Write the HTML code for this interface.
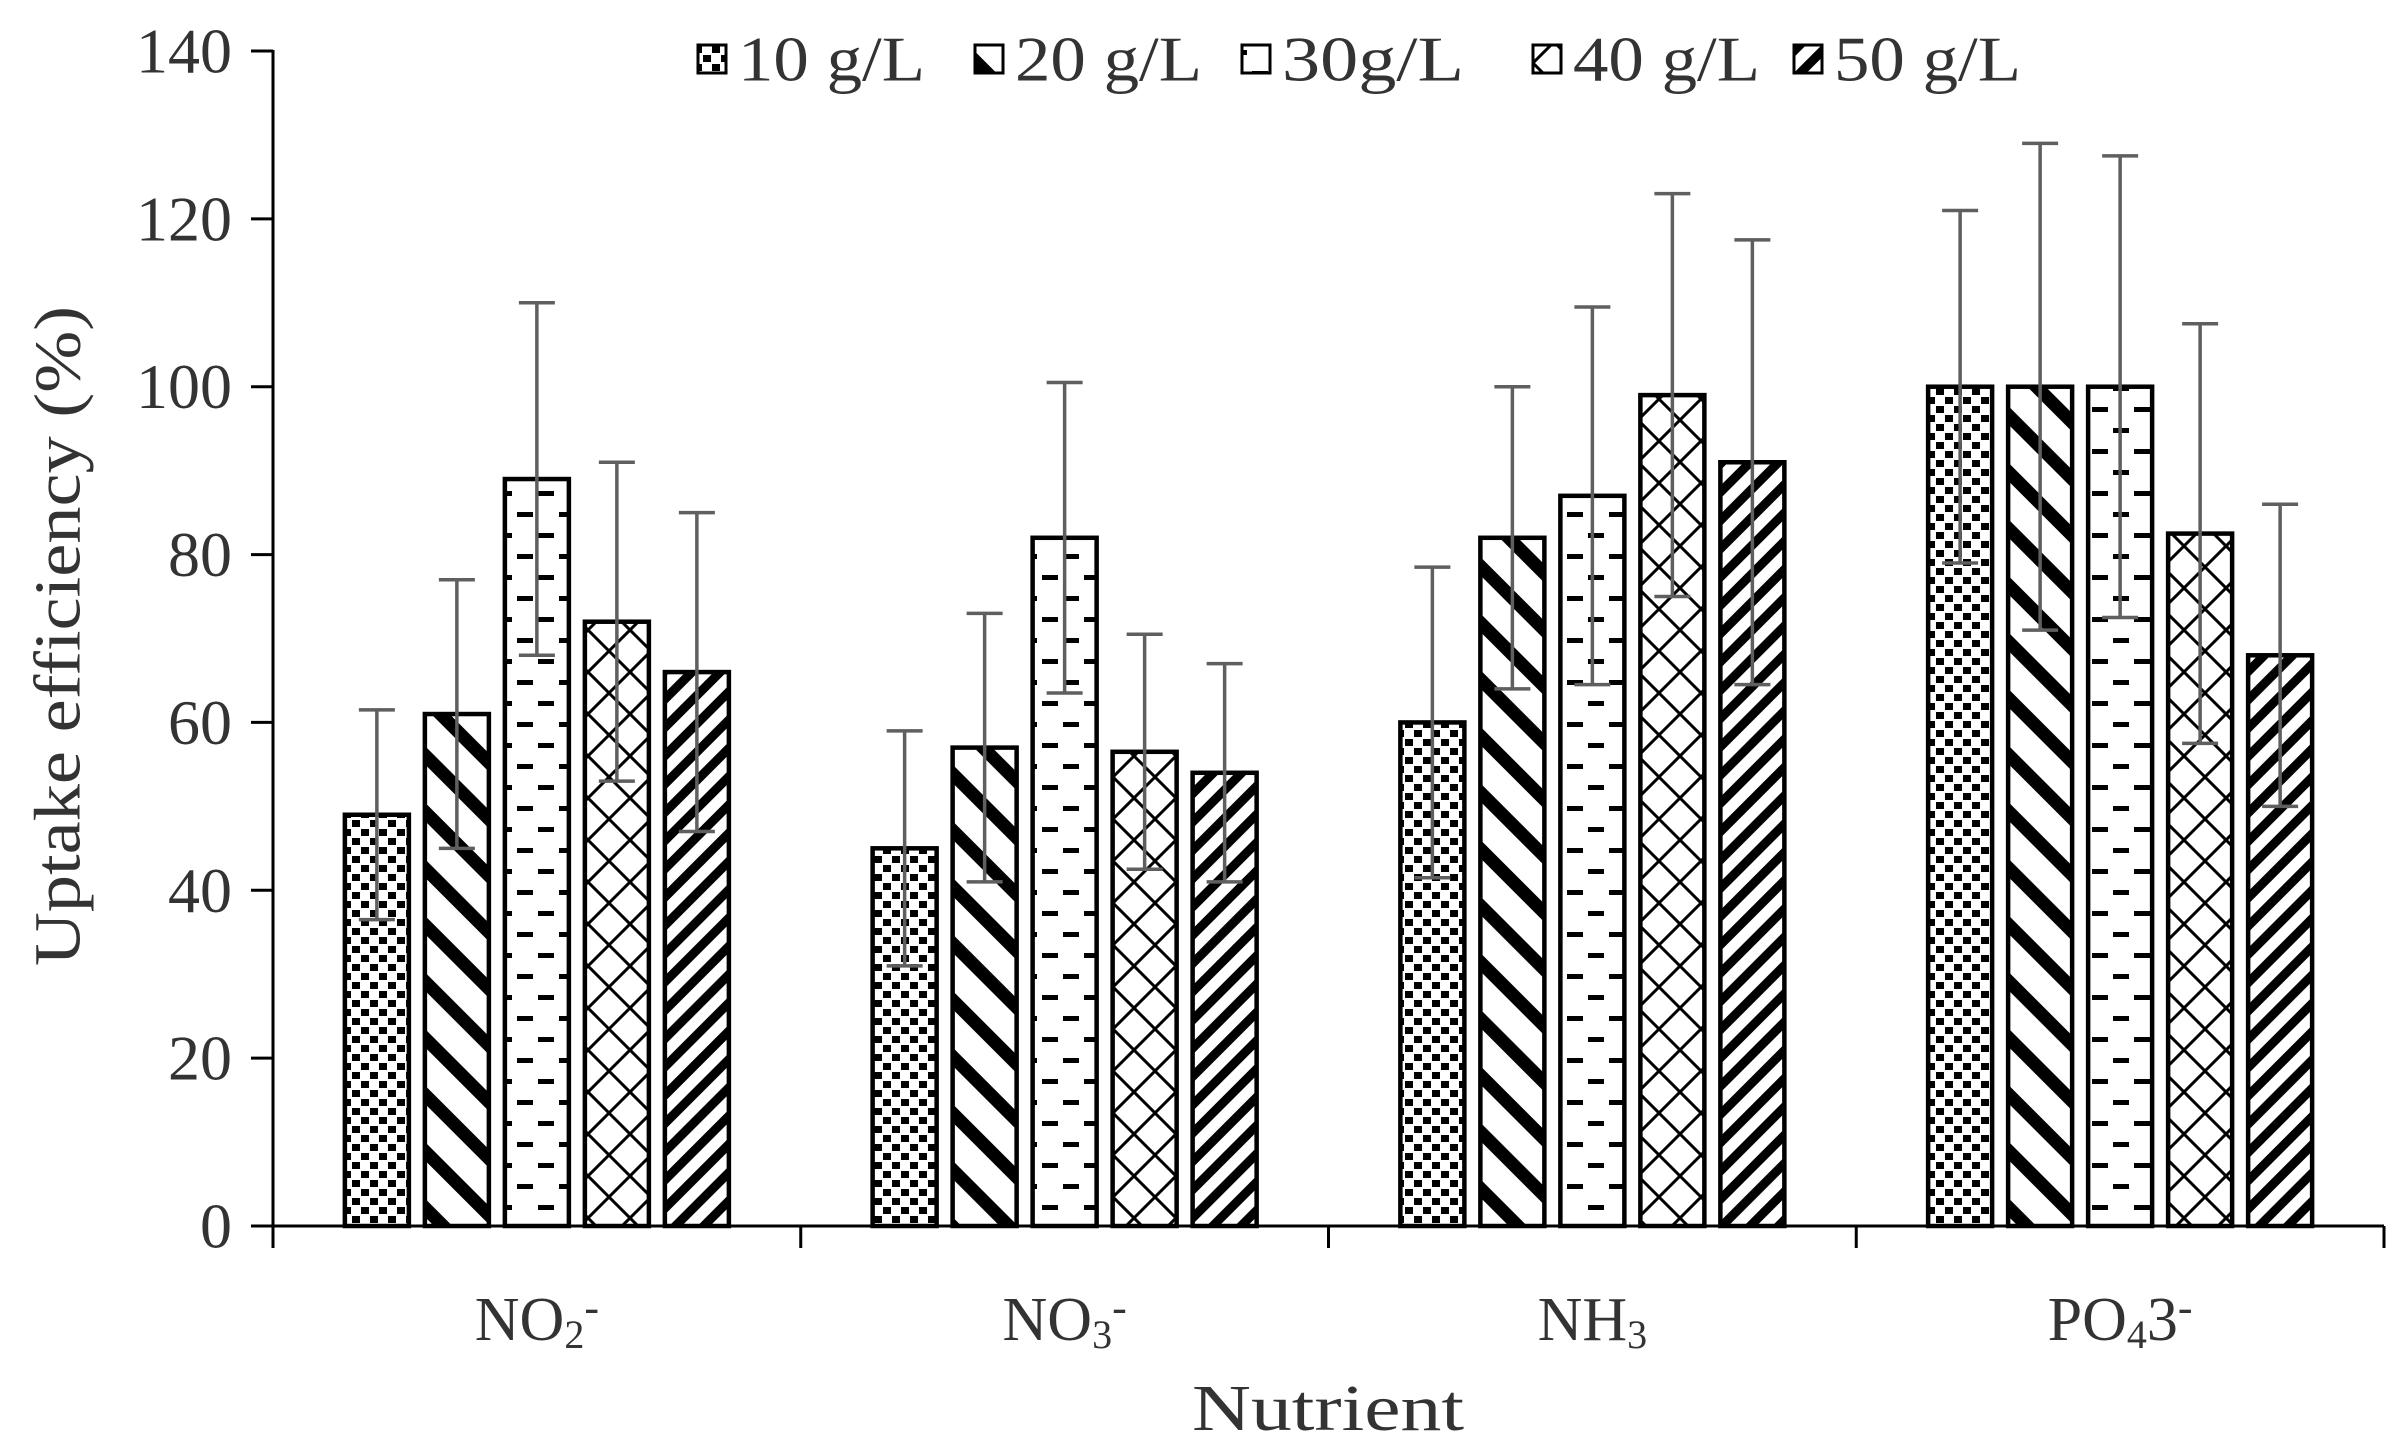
<!DOCTYPE html>
<html><head><meta charset="utf-8"><style>
html,body{margin:0;padding:0;background:#fff}
svg{display:block}
text{font-family:"Liberation Serif",serif;fill:#333}
</style></head><body>
<svg id="chart" width="2404" height="1450" viewBox="0 0 2404 1450" xmlns="http://www.w3.org/2000/svg">
<defs>
<pattern id="p0" patternUnits="userSpaceOnUse" width="18" height="18">
<rect width="18" height="18" fill="#fff"/><rect x="1" y="1" width="8" height="7" fill="#000"/><rect x="10" y="10" width="8" height="7" fill="#000"/></pattern>
<pattern id="p1" patternUnits="userSpaceOnUse" width="40" height="40" patternTransform="rotate(-45)">
<rect width="40" height="40" fill="#fff"/><rect x="0" y="0" width="13" height="40" fill="#000"/></pattern>
<pattern id="p2" patternUnits="userSpaceOnUse" width="42" height="42">
<rect width="42" height="42" fill="#fff"/><rect x="13" y="8" width="16" height="5" fill="#000"/><rect x="0" y="29" width="8" height="5" fill="#000"/><rect x="34" y="29" width="8" height="5" fill="#000"/></pattern>
<pattern id="p3" patternUnits="userSpaceOnUse" width="42" height="42">
<rect width="42" height="42" fill="#fff"/><path d="M0 0 L21 21 L0 42 M42 0 L21 21 L42 42" stroke="#000" stroke-width="3" fill="none"/></pattern>
<pattern id="p4" patternUnits="userSpaceOnUse" width="20" height="20" patternTransform="rotate(45)">
<rect width="20" height="20" fill="#fff"/><rect x="0" y="0" width="9" height="20" fill="#000"/></pattern>
</defs>
<g id="axes"></g>
<g id="bars"></g>
<g id="errs"></g>
<g id="legend"></g>
<text x="58" y="636" transform="rotate(-90 58 636)" text-anchor="middle" dominant-baseline="central" font-size="66" textLength="660" lengthAdjust="spacingAndGlyphs">Uptake efficiency (%)</text>
<text x="1328" y="1430" text-anchor="middle" font-size="66" textLength="272" lengthAdjust="spacingAndGlyphs">Nutrient</text>
</svg>
<script>
const categories = ["NO2", "NO3", "NH3", "PO4"];
const seriesNames = ["10 g/L", "20 g/L", "30g/L", "40 g/L", "50 g/L"];
const s10 = [49, 45, 60, 100];
const s20 = [61, 57, 82, 100];
const s30 = [89, 82, 87, 100];
const s40 = [72, 56.5, 99, 82.5];
const s50 = [66, 54, 91, 68];
const e10 = [12.5, 14, 18.5, 21];
const e20 = [16, 16, 18, 29];
const e30 = [21, 18.5, 22.5, 27.5];
const e40 = [19, 14, 24, 25];
const e50 = [19, 13, 26.5, 18];
const yTicks = [0, 20, 40, 60, 80, 100, 120, 140];

const NS = "http://www.w3.org/2000/svg";
const X0 = 273, X1 = 2384, Y0 = 1226, Y1 = 51, YMAX = 140;
const catW = (X1 - X0) / categories.length;
function y(v){ return Y0 - v / YMAX * (Y0 - Y1); }
function xc(i){ return X0 + catW * (i + 0.5); }
function mk(tag, attrs, parent){ const e = document.createElementNS(NS, tag); for (const k in attrs) e.setAttribute(k, attrs[k]); parent.appendChild(e); return e; }
const axes = document.getElementById('axes'), bars = document.getElementById('bars'), errs = document.getElementById('errs'), legend = document.getElementById('legend');
const series = [s10, s20, s30, s40, s50], errors = [e10, e20, e30, e40, e50];

let ax = mk('line', {x1: X0, y1: Y1 - 1, x2: X0, y2: Y0 + 22, stroke: '#000', 'stroke-width': 3}, axes);


let xl = mk('line', {x1: X0, y1: Y0, x2: X1, y2: Y0, stroke: '#000', 'stroke-width': 3}, axes);


yTicks.forEach(t => {
  const tk = mk('line', {x1: X0 - 22, y1: y(t), x2: X0, y2: y(t), stroke: '#000', 'stroke-width': 3}, axes);
  
  
  const lb = mk('text', {x: 232, y: y(t), 'text-anchor': 'end', 'dominant-baseline': 'central', 'font-size': 64}, axes);
  lb.textContent = t;
  
  
});
for (let i = 1; i <= categories.length; i++) {
  const tk = mk('line', {x1: X0 + catW * i, y1: Y0, x2: X0 + catW * i, y2: Y0 + 22, stroke: '#000', 'stroke-width': 3}, axes);
  
  
}
const catLabels = ['NO<tspan font-size="40" dy="8">2</tspan><tspan font-size="44" dy="-26">-</tspan>',
  'NO<tspan font-size="40" dy="8">3</tspan><tspan font-size="44" dy="-26">-</tspan>',
  'NH<tspan font-size="40" dy="8">3</tspan>',
  'PO<tspan font-size="40" dy="8">4</tspan><tspan dy="-8">3</tspan><tspan font-size="44" dy="-18">-</tspan>'];
categories.forEach((c, i) => {
  const t = mk('text', {x: xc(i), y: 1340, 'text-anchor': 'middle', 'font-size': 62}, axes);
  t.innerHTML = catLabels[i];
  
  
});

const step = 80, bw = 64;
series.forEach((s, j) => {
  s.forEach((v, i) => {
    const cx = xc(i) + (j - 2) * step;
    const r = mk('rect', {x: cx - bw / 2, y: y(v), width: bw, height: Y0 - y(v), fill: 'url(#p' + j + ')', stroke: '#000', 'stroke-width': 4.5}, bars);
    
    
    const e = errors[j][i];
    const g = mk('path', {d: `M${cx} ${y(v + e)}V${y(v - e)}M${cx - 18} ${y(v + e)}H${cx + 18}M${cx - 18} ${y(v - e)}H${cx + 18}`, stroke: '#5f5f5f', 'stroke-width': 3.5, fill: 'none'}, errs);
    
    
  });
});

const lx = [698, 975, 1242, 1533, 1794];
const lw = [187, 187, 182, 187, 187];
seriesNames.forEach((n, j) => {
  const r = mk('rect', {x: lx[j], y: 45, width: 28, height: 28, fill: 'url(#p' + j + ')', stroke: '#000', 'stroke-width': 3}, legend);
  
  
  const t = mk('text', {x: lx[j] + 40, y: 59, 'dominant-baseline': 'central', 'font-size': 64, textLength: lw[j], lengthAdjust: 'spacingAndGlyphs'}, legend);
  t.textContent = n;
  
  
});
</script>
</body></html>
